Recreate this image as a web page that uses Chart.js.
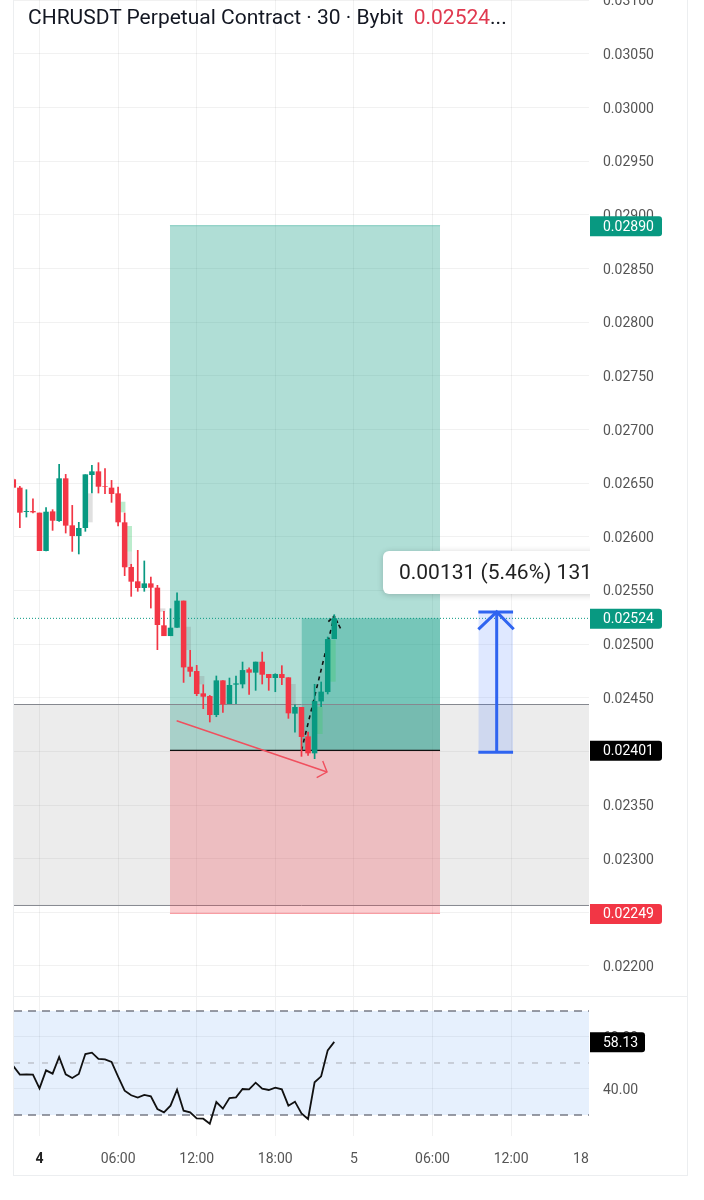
<!DOCTYPE html>
<html lang="en">
<head>
    <meta charset="UTF-8">
    <title>CHRUSDT Perpetual Contract</title>
    <style>
        body { margin: 0; background: #fff; font-family: Roboto, sans-serif; }
        #frame { position: absolute; left: 13px; top: -1px; width: 673px; height: 1175px; border: 1px solid #eceef0; }
        #divider { position: absolute; left: 14px; top: 996px; width: 673px; height: 1px; background: #eceef0; }
        #title { position: absolute; left: 28px; top: 5px; font-size: 21px; line-height: 24px; color: #131722; white-space: pre; z-index: 2; }
        #title span { color: #e0394f; }
        #priceChart { position: absolute; left: 0; top: 0; }
        #rsiChart { position: absolute; left: 0; top: 996px; }
    </style>
    <script src="https://cdn.jsdelivr.net/npm/chart.js"></script>
</head>
<body>
    <div id="frame"></div>
    <canvas id="priceChart" width="704" height="996"></canvas>
    <canvas id="rsiChart" width="704" height="180"></canvas>
    <div id="divider"></div>
    <div id="title">CHRUSDT Perpetual Contract · 30 · Bybit  <span>0.02524</span>...</div>

    <script>
        // 30 minute bars, index 0 is 00:00 on the 4th
        const barIndex = [-4,-3,-2,-1,0,1,2,3,4,5,6,7,8,9,10,11,12,13,14,15,16,17,18,19,20,21,22,23,24,25,26,27,28,29,30,31,32,33,34,35,36,37,38,39,40,41,42,43,44,45];
        const opens = [.026536,.026458,.026231,.026240,.026225,.025868,.026237,.026147,.026545,.026107,.026007,.026082,.026576,.026610,.026473,.026458,.026405,.026135,.025719,.025585,.025523,.025566,.025526,.025175,.025075,.025153,.025405,.024789,.024749,.024541,.024516,.024339,.024662,.024442,.024622,.024625,.024765,.024734,.024836,.024721,.024684,.024721,.024690,.024352,.024414,.024140,.023982,.024466,.024553,.025047];
        const highs = [.026545,.026473,.026442,.026358,.026225,.026275,.026256,.026679,.026585,.026296,.026138,.026582,.026669,.026694,.026638,.026529,.026467,.026225,.025747,.025877,.025778,.025628,.025551,.025308,.025333,.025482,.025405,.024945,.024805,.024625,.024525,.024706,.024662,.024687,.024706,.024836,.024783,.024836,.024929,.024721,.024727,.024802,.024690,.024438,.024414,.024184,.024628,.024650,.025069,.025277];
        const lows = [.026452,.026082,.026181,.026219,.025868,.025865,.026057,.026141,.026032,.025861,.025837,.026048,.026405,.026405,.026399,.026318,.026098,.025635,.025442,.025489,.025489,.025333,.024945,.025075,.025075,.025153,.024640,.024696,.024516,.024395,.024271,.024320,.024361,.024442,.024442,.024588,.024529,.024566,.024625,.024566,.024553,.024619,.024305,.024177,.023951,.023960,.023929,.024414,.024532,.025047];
        const closes = [.026458,.026225,.026240,.026228,.025868,.026234,.026150,.026545,.026104,.026007,.026082,.026582,.026610,.026467,.026467,.026399,.026135,.025716,.025582,.025523,.025566,.025526,.025178,.025075,.025153,.025405,.024783,.024743,.024535,.024510,.024339,.024662,.024438,.024619,.024634,.024758,.024734,.024836,.024715,.024684,.024721,.024684,.024355,.024414,.024134,.023982,.024469,.024557,.025047,.025240];

        // pale shadow candles sitting behind the real ones
        const ghostX = [7.7,12.7,13.7,13.7,18.8,22.7,24.75,38.7,42.8,44.8];
        const ghostTop = [.026405,.026327,.026101,.025861,.025333,.025162,.024703,.024628,.024417,.025038];
        const ghostBottom = [.026135,.026228,.025861,.025722,.025302,.024945,.024625,.024432,.024162,.024650];
        const ghostGreen = [false,true,true,false,false,false,false,false,true,true];

        const rsiX = [-4,-3,-2,-1,0,1,2,3,4,5,6,7,8,9,10,11,12,13,14,15,16,17,18,19,20,21,22,23,24,25,26,27,28,29,30,31,32,33,34,35,36,37,38,39,40,41,42,43,44,45];
        const rsiValues = [48.85,45.52,45.64,45.52,40.26,47.18,45.9,52.31,45.64,44.23,45.77,53.46,53.98,51.54,51.41,50.39,44.74,39.36,37.57,36.67,37.7,37.18,32.31,31.03,33.59,39.75,31.67,31.03,28.72,28.59,26.67,35,32.44,36.54,36.8,40,39.87,42.44,40.13,39.62,40.51,39.87,33.59,35.13,30.64,28.46,42.57,44.87,54.87,58.13];

        const priceTicks = [.022,.0225,.023,.0235,.024,.0245,.025,.0255,.026,.0265,.027,.0275,.028,.0285,.029,.0295,.03,.0305,.031];
        const rsiTicks = [40,60];
        const gridX = [0,12,24,36,48,60,72];
        const timeTicks = [0,12,24,36,48,60,72,82.67];
        const timeLabels = ['4','06:00','12:00','18:00','5','06:00','12:00','18'];

        // trade box and levels
        const boxX = [19.92,61.15];
        const profitX = [40,61.15];
        const targetPrice = .0289, entryPrice = .02401, stopPrice = .02249, lastPrice = .02524;
        const zoneTop = .024437, zoneBottom = .022564;

        // hand drawn arrows
        const redArrowX = [20.94,43.9], redArrowY = [.024286,.023808];
        const redHeadX = [43.24,43.9,42.32], redHeadY = [.023911,.023808,.023755];
        const blackArrowX = [40,45], blackArrowY = [.02401,.025262];
        const blackHeadX = [44.1,45,46.03], blackHeadY = [.025209,.025262,.025138];

        // measure tool
        const measureX = [67,72.3], measureTop = .0253, measureBottom = .023992;
        const measureLineX = [69.8,69.8], measureHeadX = [67,69.8,72.4], measureHeadY = [.025138,.0253,.025138];
        const measureText = '0.00131 (5.46%) 131';

        const tagValues = [.0289,.02524,.02401,.02249];
        const tagColors = ['#089981','#089981','#000000','#f23645'];

        const red = '#f23645', green = '#089981', gridColor = 'rgba(0,0,0,0.055)', tickColor = '#555';
        const xMin = -3.893, xMax = 83.893;

        Chart.defaults.font.family = 'Roboto';
        Chart.defaults.font.size = 14;

        function lineSet(xs, ys, color, width, order, dash) {
            return {
                type: 'line',
                data: xs.map((x, i) => ({ x: x, y: ys[i] })),
                borderColor: color,
                borderWidth: width,
                borderDash: dash || [],
                pointRadius: 0,
                tension: 0,
                order: order
            };
        }

        function fillSet(xs, top, bottom, color, edge, order) {
            const set = lineSet(xs, [top, top], edge, edge === 'transparent' ? 0 : 1, order);
            set.fill = { value: bottom };
            set.backgroundColor = color;
            return set;
        }

        function drawTag(c, text, y, color, left, right) {
            c.fillStyle = color;
            c.beginPath();
            c.roundRect(left, y - 9.5, right - left, 20, [0, 3, 3, 0]);
            c.fill();
            c.fillStyle = '#fff';
            c.font = '14px Roboto';
            c.textAlign = 'left';
            c.textBaseline = 'middle';
            c.fillText(text, left + 13, y + 1.5);
        }

        // price tags on the axis and the measure label
        const priceOverlay = {
            id: 'priceOverlay',
            afterDraw(chart) {
                const c = chart.ctx, xs = chart.scales.x, ys = chart.scales.y, area = chart.chartArea;
                c.save();
                tagValues.forEach((v, i) => drawTag(c, v.toFixed(5), ys.getPixelForValue(v), tagColors[i], area.right + 1, area.right + 73));

                const left = xs.getPixelForValue(52.44), mid = ys.getPixelForValue(.025667);
                c.beginPath();
                c.rect(0, 0, area.right + 1, chart.height);
                c.clip();
                c.shadowColor = 'rgba(0,0,0,0.2)';
                c.shadowBlur = 6;
                c.shadowOffsetY = 1;
                c.fillStyle = '#fff';
                c.beginPath();
                c.roundRect(left, mid - 21.5, 260, 43, 6);
                c.fill();
                c.shadowColor = 'transparent';
                c.fillStyle = '#222';
                c.font = '21px Roboto';
                c.textAlign = 'left';
                c.textBaseline = 'middle';
                c.fillText(measureText, left + 16, mid + 1);
                c.restore();
            }
        };

        const rsiOverlay = {
            id: 'rsiOverlay',
            afterDraw(chart) {
                const y = chart.scales.y.getPixelForValue(rsiValues[rsiValues.length - 1]);
                chart.ctx.save();
                drawTag(chart.ctx, rsiValues[rsiValues.length - 1].toFixed(2), y, '#000', chart.chartArea.right + 1, chart.chartArea.right + 56);
                chart.ctx.restore();
            }
        };

        function rightAxis(min, max, values, digits) {
            return {
                position: 'right',
                min: min,
                max: max,
                border: { display: false },
                grid: { color: gridColor, drawTicks: false },
                ticks: { color: tickColor, padding: 14, labelOffset: 1.5, autoSkip: false, callback: v => v.toFixed(digits) },
                afterBuildTicks(axis) { axis.ticks = values.map(v => ({ value: v })); },
                afterFit(axis) {
                    axis.width = 115;
                    axis.paddingTop = 0;
                    axis.paddingBottom = 0;
                }
            };
        }

        new Chart(document.getElementById('priceChart'), {
            type: 'bar',
            data: {
                datasets: [
                    fillSet(boxX, targetPrice, entryPrice, 'rgba(8,153,129,0.32)', 'rgba(8,153,129,0.45)', 95),
                    fillSet(profitX, lastPrice, entryPrice, 'rgba(8,153,129,0.34)', 'transparent', 94),
                    fillSet([xMin, xMax], zoneTop, zoneBottom, 'rgba(120,120,120,0.14)', '#85888f', 90),
                    lineSet([xMin, xMax], [zoneBottom, zoneBottom], '#85888f', 1, 89),
                    fillSet(boxX, stopPrice, entryPrice, 'rgba(242,54,69,0.25)', 'rgba(242,54,69,0.45)', 80),
                    lineSet(boxX, [entryPrice, entryPrice], '#111', 1.3, 78),
                    lineSet([xMin, xMax], [lastPrice, lastPrice], green, 1, 77, [1, 2]),
                    fillSet(measureX, measureTop, measureBottom, 'rgba(41,98,255,0.15)', 'transparent', 76),
                    {
                        data: ghostX.map((x, i) => ({ x: x, y: [ghostTop[i], ghostBottom[i]] })),
                        backgroundColor: ghostGreen.map(g => g ? 'rgba(60,200,110,0.35)' : 'rgba(130,130,130,0.25)'),
                        grouped: false, barPercentage: 10, maxBarThickness: 5.5, order: 60
                    },
                    lineSet(blackArrowX, blackArrowY, '#111', 1.6, 55, [4, 4]),
                    lineSet(blackHeadX, blackHeadY, '#111', 1.6, 55, [4, 2]),
                    {
                        data: barIndex.map((x, i) => ({ x: x, y: [lows[i], highs[i]] })),
                        backgroundColor: barIndex.map((x, i) => closes[i] >= opens[i] ? green : red),
                        grouped: false, barPercentage: 10, maxBarThickness: 1.7, order: 50
                    },
                    {
                        data: barIndex.map((x, i) => ({ x: x, y: [opens[i], closes[i]] })),
                        backgroundColor: barIndex.map((x, i) => closes[i] >= opens[i] ? green : red),
                        grouped: false, barPercentage: 10, maxBarThickness: 5.5, order: 49
                    },
                    lineSet(redArrowX, redArrowY, '#f0505e', 1.4, 40),
                    lineSet(redHeadX, redHeadY, '#f0505e', 1.4, 40),
                    lineSet(measureLineX, [measureBottom, measureTop], '#2f64f0', 3, 30),
                    lineSet(measureX, [measureTop, measureTop], '#2f64f0', 3, 30),
                    lineSet(measureX, [measureBottom, measureBottom], '#2f64f0', 3, 30),
                    lineSet(measureHeadX, measureHeadY, '#2f64f0', 3, 30)
                ]
            },
            options: {
                responsive: false,
                animation: false,
                events: [],
                layout: { padding: { left: 14, right: 0, top: 0, bottom: 0 } },
                plugins: { legend: { display: false }, tooltip: { enabled: false } },
                scales: {
                    x: {
                        type: 'linear',
                        offset: false,
                        min: xMin,
                        max: xMax,
                        border: { display: false },
                        grid: { color: gridColor, drawTicks: false, offset: false },
                        ticks: { display: false },
                        afterBuildTicks(axis) { axis.ticks = gridX.map(v => ({ value: v })); },
                        afterFit(axis) { axis.height = 0; }
                    },
                    y: rightAxis(.0217204, .031003, priceTicks, 5)
                }
            },
            plugins: [priceOverlay]
        });

        new Chart(document.getElementById('rsiChart'), {
            type: 'line',
            data: {
                datasets: [
                    fillSet([xMin, xMax], 70, 30, 'rgba(30,120,235,0.11)', 'transparent', 20),
                    lineSet([xMin, xMax], [70, 70], '#787b86', 1.5, 10, [8, 6]),
                    lineSet([xMin, xMax], [50, 50], '#a9acb4', 1, 10, [6, 8]),
                    lineSet([xMin, xMax], [30, 30], '#787b86', 1.5, 10, [8, 6]),
                    lineSet(rsiX, rsiValues, '#111', 1.8, 1)
                ]
            },
            options: {
                responsive: false,
                animation: false,
                events: [],
                layout: { padding: { left: 14, right: 0, top: 0, bottom: 0 } },
                plugins: { legend: { display: false }, tooltip: { enabled: false } },
                scales: {
                    x: {
                        type: 'linear',
                        min: xMin,
                        max: xMax,
                        border: { display: false },
                        grid: { color: c => c.index === 7 ? 'transparent' : gridColor, drawTicks: false },
                        ticks: {
                            color: c => c.index === 0 ? '#222' : tickColor,
                            font: c => ({ weight: c.index === 0 ? 'bold' : 'normal', size: 14 }),
                            padding: 15,
                            autoSkip: false,
                            maxRotation: 0,
                            minRotation: 0,
                            callback: (v, i) => timeLabels[i]
                        },
                        afterBuildTicks(axis) { axis.ticks = timeTicks.map(v => ({ value: v })); },
                        afterFit(axis) {
                            axis.height = 40;
                            axis.paddingLeft = 0;
                            axis.paddingRight = 0;
                        }
                    },
                    y: rightAxis(21.92, 75.77, rsiTicks, 2)
                }
            },
            plugins: [rsiOverlay]
        });
    </script>
</body>
</html>
